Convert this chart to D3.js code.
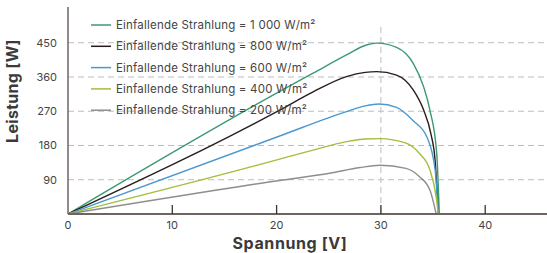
<!DOCTYPE html>
<html lang="de">
<head>
<meta charset="utf-8">
<title>Leistung vs Spannung</title>
<style>
  body { margin: 0; background: #fff; }
  svg { display: block; font-family: Inter, "Noto Sans", sans-serif; }
</style>
</head>
<body>
<script src="https://cdn.jsdelivr.net/npm/d3@7"></script>
<script>
// Daten
var labels = ["1 000", "800", "600", "400", "200"];
var colors = ["#3a9a72", "#2a1c1c", "#4a98cf", "#a2bf3e", "#8e8e8e"];

var v1000 = [0, 20.3, 23.5, 26.7, 28.6, 29.6, 31.5, 33.1, 34.1, 34.7, 35.35, 35.6];
var p1000 = [0, 322, 370, 418, 444, 449, 438, 396, 334, 273, 160, 0];
var v800  = [0, 20.3, 23.5, 26.7, 28.5, 29.6, 31.5, 33.1, 34.1, 34.8, 35.2, 35.5];
var p800  = [0, 273, 321, 361, 372, 374, 365, 326, 273, 210, 140, 0];
var v600  = [0, 20.3, 26.7, 28.5, 29.8, 31.5, 33.1, 34.4, 35.2, 35.5];
var p600  = [0, 205, 269, 284, 289, 280, 245, 203, 116, 0];
var v400  = [0, 20.3, 23.5, 26.7, 28.5, 29.9, 32.4, 33.7, 34.7, 35.3, 35.5];
var p400  = [0, 144, 168, 190, 197, 198, 186, 159, 116, 45, 0];
var v200  = [0, 20.3, 25.1, 28, 29.9, 32.4, 33.7, 34.7, 35.3];
var p200  = [0, 88, 107, 122, 128, 120, 98, 63, 0];

var xTicks = [0, 10, 20, 30, 40];
var yTicks = [90, 180, 270, 360, 450];

var series = [[v1000, p1000], [v800, p800], [v600, p600], [v400, p400], [v200, p200]];

var w = 547, h = 253;
var x0 = 68, y0 = 214;

var x = d3.scaleLinear().domain([0, 46]).range([x0, x0 + 46 * 10.43]);
var y = d3.scaleLinear().domain([0, 540]).range([y0, y0 - 540 * 0.3806]);

var svg = d3.select("body").append("svg").attr("width", w).attr("height", h);

// Gitterlinien
svg.selectAll("line.grid")
  .data(yTicks).enter().append("line")
  .attr("x1", x0).attr("x2", w)
  .attr("y1", function(d) { return y(d); })
  .attr("y2", function(d) { return y(d); })
  .attr("stroke", "#bdbdbd").attr("stroke-width", 1)
  .attr("stroke-dasharray", "6,4");

svg.append("line")
  .attr("x1", x(30)).attr("x2", x(30))
  .attr("y1", 27).attr("y2", y0)
  .attr("stroke", "#bdbdbd").attr("stroke-width", 1)
  .attr("stroke-dasharray", "6,4");

// Kurven
var line = d3.line()
  .x(function(d) { return x(d[0]); })
  .y(function(d) { return y(d[1]); })
  .curve(d3.curveMonotoneX);

series.forEach(function(s, i) {
  var pts = s[0].map(function(v, j) { return [v, s[1][j]]; });
  svg.append("path")
    .attr("d", line(pts))
    .attr("fill", "none")
    .attr("stroke", colors[i])
    .attr("stroke-width", 1.4);
});

// Achsen
svg.append("line")
  .attr("x1", x0).attr("x2", x0).attr("y1", 7).attr("y2", y0)
  .attr("stroke", "#6e6560").attr("stroke-width", 1.5);
svg.append("line")
  .attr("x1", x0).attr("x2", w).attr("y1", y0).attr("y2", y0)
  .attr("stroke", "#6e6560").attr("stroke-width", 2);

svg.selectAll("line.xtick")
  .data(xTicks.slice(1)).enter().append("line")
  .attr("x1", function(d) { return x(d); })
  .attr("x2", function(d) { return x(d); })
  .attr("y1", y0 - 9).attr("y2", y0)
  .attr("stroke", "#3a3434").attr("stroke-width", 1.3);

svg.selectAll("text.xlab")
  .data(xTicks).enter().append("text")
  .attr("x", function(d) { return x(d); })
  .attr("y", 229)
  .attr("text-anchor", "middle")
  .attr("font-size", "11px").attr("fill", "#444")
  .text(function(d) { return d; });

svg.selectAll("text.ylab")
  .data(yTicks).enter().append("text")
  .attr("x", 57)
  .attr("y", function(d) { return y(d) + 4; })
  .attr("text-anchor", "end")
  .attr("font-size", "11px").attr("fill", "#444")
  .text(function(d) { return d; });

svg.append("text")
  .attr("x", 290).attr("y", 249)
  .attr("text-anchor", "middle")
  .attr("font-size", "16px").attr("font-weight", "bold").attr("fill", "#3a3a3a")
  .attr("letter-spacing", "0.6px")
  .text("Spannung [V]");

svg.append("text")
  .attr("transform", "translate(18,91) rotate(-90)")
  .attr("text-anchor", "middle")
  .attr("font-size", "16px").attr("font-weight", "bold").attr("fill", "#3a3a3a")
  .attr("letter-spacing", "0.3px")
  .text("Leistung [W]");

// Legende
labels.forEach(function(l, i) {
  var ly = 25 + i * 21.3;
  svg.append("line")
    .attr("x1", 91).attr("x2", 111).attr("y1", ly).attr("y2", ly)
    .attr("stroke", colors[i]).attr("stroke-width", 1.5);
  svg.append("text")
    .attr("x", 116).attr("y", ly + 4)
    .attr("font-size", "11.5px").attr("fill", "#444")
    .attr("letter-spacing", "0.2px")
    .text("Einfallende Strahlung = " + l + " W/m²");
});
</script>
</body>
</html>
